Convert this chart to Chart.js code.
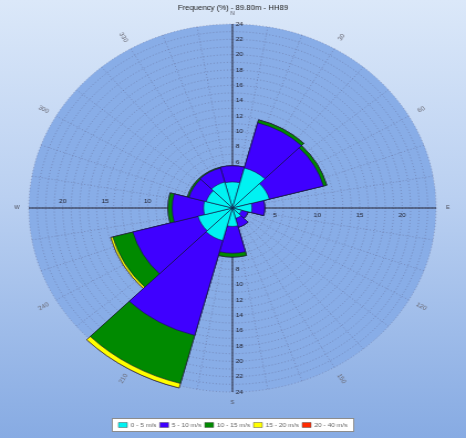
<!DOCTYPE html>
<html>
<head>
<meta charset="utf-8">
<script src="https://cdn.jsdelivr.net/npm/chart.js@4.4.0/dist/chart.umd.min.js"></script>
<style>
  html, body { margin: 0; padding: 0; }
  body {
    width: 466px; height: 438px; overflow: hidden;
    background: linear-gradient(to bottom, #dbe8f9 0%, #bad0f1 45%, #87abe3 100%);
  }
  /* the rose is an ellipse: draw it round, then stretch sideways */
  #wrap { width: 421px; height: 438px; transform: scaleX(1.1069); transform-origin: 0 0; }
</style>
</head>
<body>
<div id="wrap"><canvas id="rose" width="421" height="438"></canvas></div>
<script>
const TITLE = "Frequency (%) - 89.80m - HH89";
const DIRECTIONS = ["0", "30", "60", "90", "120", "150", "180", "210", "240", "270", "300", "330"];
const SPEED_BINS = ["0 - 5 m/s", "5 - 10 m/s", "10 - 15 m/s", "15 - 20 m/s", "20 - 40 m/s"];
const BIN_COLORS = ["#00f2f2", "#3f00ff", "#008a00", "#ffff00", "#ff2a00"];

// frequency (%) per direction sector, one list per speed bin
const FREQ_0_5   = [3.4, 5.4, 4.5, 2.3, 1.1, 1.4, 2.4, 4.4, 4.2, 3.4, 3.2, 3.5];
const FREQ_5_10  = [2.1, 6.1, 6.6, 1.5, 0.8, 1.2, 3.5, 12.8, 7.95, 3.7, 2.1, 1.9];
const FREQ_10_15 = [0, 0.4, 0.4, 0, 0, 0, 0.5, 6.5, 2.45, 0.5, 0.2, 0.1];
const FREQ_15_20 = [0, 0, 0, 0, 0, 0, 0, 0.6, 0.25, 0, 0, 0];
const FREQ_20_40 = [0, 0, 0, 0, 0, 0, 0, 0, 0, 0, 0, 0];

const AXIS_MAX = 24;
const VERTICAL_TICKS = [2, 4, 6, 8, 10, 12, 14, 16, 18, 20, 22, 24];
const HORIZONTAL_TICKS = [5, 10, 15, 20];
const CARDINALS = [["N", 0], ["E", 90], ["S", 180], ["W", 270]];
const SIDE_ANGLES = [30, 60, 120, 150, 210, 240, 300, 330];

const GRID_COLOR = "rgba(80, 72, 105, 0.55)";

Chart.defaults.font.family = "'Liberation Sans', Arial, sans-serif";

function stackBins(bins) {
  let running = DIRECTIONS.map(() => 0);
  return bins.map((bin) => {
    running = running.map((v, i) => v + bin[i]);
    return running;
  });
}

function polar(cx, cy, d, deg) {
  const t = (deg * Math.PI) / 180;
  return [cx + d * Math.sin(t), cy - d * Math.cos(t)];
}

const roseBackdrop = {
  id: "roseBackdrop",
  beforeDraw(chart) {
    const ctx = chart.ctx;
    const scale = chart.scales.r;
    const cx = scale.xCenter, cy = scale.yCenter;
    const R = scale.getDistanceFromCenterForValue(AXIS_MAX);

    // white frame behind the legend
    const boxes = chart.legend.legendHitBoxes;
    if (boxes && boxes.length) {
      const left = Math.min(...boxes.map((b) => b.left)) - 6;
      const right = Math.max(...boxes.map((b) => b.left + b.width)) + 6;
      const top = boxes[0].top - 4;
      const h = boxes[0].height + 8;
      ctx.save();
      ctx.fillStyle = "#ffffff";
      ctx.strokeStyle = "#8c8c8c";
      ctx.lineWidth = 1;
      ctx.fillRect(left, top, right - left, h);
      ctx.strokeRect(left + 0.5, top + 0.5, right - left - 1, h - 1);
      ctx.restore();
    }

    ctx.save();
    ctx.fillStyle = "#88ade7";
    ctx.beginPath();
    ctx.arc(cx, cy, R, 0, Math.PI * 2);
    ctx.fill();

    ctx.strokeStyle = GRID_COLOR;
    ctx.lineWidth = 0.6;
    ctx.setLineDash([1, 2]);
    for (let a = 0; a < 360; a += 10) {
      const [x, y] = polar(cx, cy, R, a);
      ctx.beginPath();
      ctx.moveTo(cx, cy);
      ctx.lineTo(x, y);
      ctx.stroke();
    }
    ctx.restore();
  },
  beforeDatasetsDraw(chart) {
    const ctx = chart.ctx;
    const scale = chart.scales.r;
    const cx = scale.xCenter, cy = scale.yCenter;
    const R = scale.getDistanceFromCenterForValue(AXIS_MAX);

    ctx.save();
    ctx.strokeStyle = "#262636";
    ctx.lineWidth = 1;
    ctx.beginPath();
    ctx.moveTo(cx, cy - R);
    ctx.lineTo(cx, cy + R);
    ctx.moveTo(cx - R, cy);
    ctx.lineTo(cx + R, cy);
    ctx.stroke();

    ctx.fillStyle = "#1e1e2a";
    ctx.font = "6px 'Liberation Sans', Arial, sans-serif";
    ctx.textBaseline = "middle";
    ctx.textAlign = "left";
    VERTICAL_TICKS.forEach((v) => {
      const d = scale.getDistanceFromCenterForValue(v);
      ctx.fillText(String(v), cx + 3, cy - d);
      ctx.fillText(String(v), cx + 3, cy + d);
    });
    ctx.textAlign = "center";
    HORIZONTAL_TICKS.forEach((v) => {
      const d = scale.getDistanceFromCenterForValue(v);
      ctx.fillText(String(v), cx - d, cy - 7);
      ctx.fillText(String(v), cx + d, cy + 7);
    });
    ctx.restore();
  },
  afterDraw(chart) {
    const ctx = chart.ctx;
    const scale = chart.scales.r;
    const cx = scale.xCenter, cy = scale.yCenter;

    ctx.save();
    ctx.fillStyle = "#4a4a55";
    ctx.font = "5px 'Liberation Sans', Arial, sans-serif";
    ctx.textAlign = "center";
    ctx.textBaseline = "middle";
    const dc = scale.getDistanceFromCenterForValue(25.4);
    CARDINALS.forEach(([txt, a]) => {
      const [x, y] = polar(cx, cy, dc, a);
      ctx.fillText(txt, x, y);
    });

    ctx.fillStyle = "#6a6a75";
    ctx.font = "6px 'Liberation Sans', Arial, sans-serif";
    const ds = scale.getDistanceFromCenterForValue(25.7);
    SIDE_ANGLES.forEach((a) => {
      const [x, y] = polar(cx, cy, ds, a);
      let rot = ((a - 90) * Math.PI) / 180;
      if (a > 180) rot += Math.PI;
      ctx.save();
      ctx.translate(x, y);
      ctx.rotate(rot);
      ctx.fillText(String(a), 0, 0);
      ctx.restore();
    });
    ctx.restore();
  },
};

function mount() {
  const ctx = document.getElementById("rose").getContext("2d");
  const stacked = stackBins([FREQ_0_5, FREQ_5_10, FREQ_10_15, FREQ_15_20, FREQ_20_40]);

  const datasets = stacked.map((values, i) => ({
    label: SPEED_BINS[i],
    data: values,
    backgroundColor: BIN_COLORS[i],
    borderColor: "#141440",
    borderWidth: 0.6,
  }));

  const options = {
    responsive: false,
    animation: false,
    layout: { padding: 0 },
    scales: {
      r: {
        min: 0,
        max: AXIS_MAX,
        startAngle: -15,
        ticks: { display: false, stepSize: 1 },
        pointLabels: { display: false },
        angleLines: { display: false },
        grid: { circular: true, color: GRID_COLOR, lineWidth: 0.6 },
        border: { dash: [1, 2] },
      },
    },
    plugins: {
      title: {
        display: true,
        text: TITLE,
        color: "#222",
        font: { size: 7, weight: "normal" },
        padding: { top: 4, bottom: 11.6 },
      },
      legend: {
        display: true,
        position: "bottom",
        title: { display: true, text: "", font: { size: 2 }, padding: { top: 23.6, bottom: 0 } },
        labels: {
          color: "#222",
          font: { size: 6 },
          boxWidth: 8,
          boxHeight: 5,
          padding: 3,
          generateLabels: (chart) =>
            chart.data.datasets.map((ds, i) => ({
              text: ds.label,
              fillStyle: ds.backgroundColor,
              strokeStyle: "#555",
              lineWidth: 0.5,
              hidden: false,
              datasetIndex: i,
            })),
        },
      },
      tooltip: { enabled: false },
    },
  };

  return new Chart(ctx, {
    type: "polarArea",
    data: { labels: DIRECTIONS, datasets: datasets },
    options: options,
    plugins: [roseBackdrop],
  });
}

document.addEventListener("DOMContentLoaded", () => mount());
</script>
</body>
</html>
